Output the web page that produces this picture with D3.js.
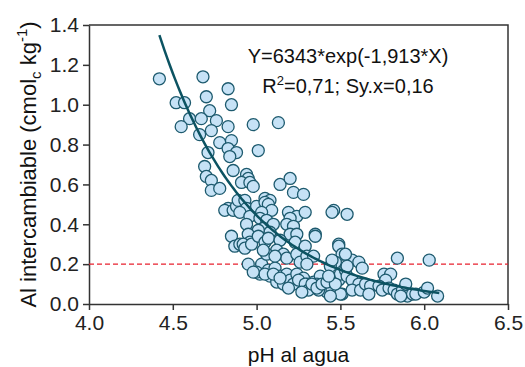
<!DOCTYPE html>
<html>
<head>
<meta charset="utf-8">
<script src="https://cdn.jsdelivr.net/npm/d3@7"></script>
<style>
  body { margin: 0; background: #fff; }
  svg { font-family: "Liberation Sans", Arial, sans-serif; }
</style>
</head>
<body>
<svg id="chart"></svg>
<script>
// pH al agua vs Al intercambiable
const pH = [
  4.42,4.68,4.83,4.70,4.52,4.57,4.85,4.72,4.60,4.67,4.76,4.55,4.83,4.98,5.13,4.73,4.66,4.78,4.85,4.83,
  4.88,5.01,4.71,4.84,4.69,4.70,4.73,4.86,4.94,4.95,4.91,4.96,4.98,4.73,4.78,5.14,5.20,5.22,5.28,5.05,
  5.08,4.83,4.81,4.86,4.88,4.89,4.93,4.94,4.90,4.96,4.94,5.00,5.05,5.07,5.09,5.03,5.02,5.06,5.10,5.04,
  5.08,5.01,5.19,5.24,5.29,5.20,5.18,5.22,5.20,5.46,5.45,5.54,4.85,4.87,4.90,4.95,4.96,4.92,4.93,4.97,
  5.01,5.05,5.07,5.14,5.24,5.23,5.35,5.35,5.49,5.49,5.51,5.12,5.16,5.18,5.24,5.26,5.29,5.30,5.34,5.30,
  4.95,5.03,5.02,5.07,5.11,5.08,5.14,5.12,5.18,5.16,5.20,5.24,5.28,5.30,5.34,5.38,5.36,5.40,5.42,5.37,
  5.45,5.46,5.49,5.50,5.47,5.44,5.53,5.54,5.51,5.06,5.11,5.04,5.00,5.05,5.10,5.14,5.22,5.25,5.29,5.31,
  5.33,5.36,5.39,5.42,5.50,5.47,5.43,4.98,5.19,5.27,5.44,5.84,6.03,5.57,5.61,5.63,5.53,5.54,5.45,5.76,
  5.80,5.77,5.57,5.61,5.57,5.62,5.65,5.68,5.67,5.73,5.75,5.79,5.82,5.84,5.87,5.89,5.90,5.93,5.95,6.00,
  6.02,6.08,5.86
];
const al = [
  1.13,1.14,1.08,1.04,1.01,1.01,1.00,0.97,0.93,0.93,0.92,0.89,0.89,0.90,0.91,0.87,0.85,0.81,0.82,0.78,
  0.76,0.77,0.76,0.74,0.69,0.64,0.62,0.67,0.65,0.63,0.61,0.61,0.59,0.57,0.58,0.60,0.63,0.56,0.55,0.53,
  0.52,0.48,0.47,0.47,0.49,0.52,0.52,0.48,0.46,0.44,0.40,0.49,0.51,0.50,0.47,0.46,0.43,0.42,0.40,0.38,
  0.36,0.37,0.46,0.44,0.46,0.43,0.40,0.39,0.35,0.47,0.46,0.45,0.34,0.29,0.30,0.35,0.31,0.30,0.28,0.30,
  0.34,0.31,0.33,0.32,0.35,0.31,0.35,0.34,0.30,0.29,0.25,0.27,0.25,0.23,0.25,0.21,0.29,0.24,0.24,0.20,
  0.20,0.20,0.15,0.17,0.18,0.14,0.14,0.11,0.15,0.10,0.12,0.15,0.13,0.10,0.11,0.14,0.10,0.09,0.06,0.07,
  0.07,0.11,0.12,0.15,0.21,0.19,0.17,0.14,0.05,0.25,0.24,0.27,0.16,0.15,0.15,0.13,0.10,0.12,0.10,0.07,
  0.10,0.08,0.10,0.11,0.05,0.10,0.14,0.16,0.08,0.06,0.04,0.23,0.22,0.22,0.21,0.18,0.25,0.19,0.22,0.15,
  0.15,0.12,0.12,0.10,0.07,0.07,0.10,0.09,0.05,0.09,0.07,0.08,0.07,0.05,0.07,0.10,0.04,0.05,0.05,0.06,
  0.08,0.04,0.04
];
const xTicks = [4.0, 4.5, 5.0, 5.5, 6.0, 6.5];
const yTicks = [0.0, 0.2, 0.4, 0.6, 0.8, 1.0, 1.2, 1.4];
// fitted model Y = a*exp(b*X)
const fitA = 6343, fitB = -1.913;
const fitRange = [4.42, 6.09];
const threshold = 0.2;
const eqLines = ["Y=6343*exp(-1,913*X)", "R²=0,71; Sy.x=0,16"];

const width = 525, height = 367;
const margin = {top: 25, right: 17, bottom: 63, left: 89};

const svg = d3.select("#chart").attr("width", width).attr("height", height);

const x = d3.scaleLinear([4.0, 6.5], [margin.left, width - margin.right]);
const y = d3.scaleLinear([0, 1.4], [height - margin.bottom, margin.top]);

// frame (top and right)
svg.append("path")
   .attr("d", `M${x(4.0)},${y(1.4)}H${x(6.5)}V${y(0)}`)
   .attr("fill", "none")
   .attr("stroke", "#333")
   .attr("stroke-width", 1.5);

// x axis
svg.append("g")
   .attr("transform", `translate(0,${y(0)})`)
   .call(d3.axisBottom(x).tickValues(xTicks).tickFormat(d3.format(".1f")).tickSize(6).tickPadding(5).tickSizeOuter(0))
   .call(g => g.selectAll("text").attr("font-size", 21).attr("fill", "#222").attr("font-family", null))
   .call(g => g.selectAll("line,path").attr("stroke", "#333").attr("stroke-width", 1.5));

// y axis
svg.append("g")
   .attr("transform", `translate(${x(4.0)},0)`)
   .call(d3.axisLeft(y).tickValues(yTicks).tickFormat(d3.format(".1f")).tickSize(6).tickPadding(4).tickSizeOuter(0))
   .call(g => g.selectAll("text").attr("font-size", 21).attr("fill", "#222").attr("font-family", null))
   .call(g => g.selectAll("line,path").attr("stroke", "#333").attr("stroke-width", 1.5));

// threshold line
svg.append("line")
   .attr("x1", x(4.0)).attr("x2", x(6.5))
   .attr("y1", y(threshold)).attr("y2", y(threshold))
   .attr("stroke", "#e8202e")
   .attr("stroke-width", 1.3)
   .attr("stroke-dasharray", "5,3");

// points
svg.append("g")
   .selectAll("circle")
   .data(d3.range(pH.length))
   .join("circle")
   .attr("cx", i => x(pH[i]))
   .attr("cy", i => y(al[i]))
   .attr("r", 6)
   .attr("fill", "#c6e2f6")
   .attr("stroke", "#1d5a6e")
   .attr("stroke-width", 1.3);

// fitted curve
const curveX = d3.range(fitRange[0], fitRange[1] + 0.001, 0.01);
svg.append("path")
   .datum(curveX)
   .attr("fill", "none")
   .attr("stroke", "#0c5362")
   .attr("stroke-width", 2.5)
   .attr("d", d3.line().x(d => x(d)).y(d => y(fitA * Math.exp(fitB * d))));

// equation
const eq = svg.append("g").attr("font-size", 20).attr("fill", "#111").attr("text-anchor", "middle");
eq.append("text").attr("x", 348).attr("y", 63).text(eqLines[0]);
const r2 = eq.append("text").attr("x", 348).attr("y", 93);
r2.append("tspan").text("R");
r2.append("tspan").attr("font-size", 13).attr("dy", -8).text("2");
r2.append("tspan").attr("dy", 8).text(eqLines[1].slice(2));

// axis titles
svg.append("text")
   .attr("x", (x(4.0) + x(6.5)) / 2)
   .attr("y", 362)
   .attr("text-anchor", "middle")
   .attr("font-size", 21)
   .attr("fill", "#111")
   .text("pH al agua");

const yl = svg.append("text")
   .attr("transform", `translate(36,${(y(0) + y(1.4)) / 2}) rotate(-90)`)
   .attr("text-anchor", "middle")
   .attr("font-size", 22)
   .attr("fill", "#111");
yl.append("tspan").text("Al intercambiable (cmol");
yl.append("tspan").attr("font-size", 15).attr("dy", 5).text("c");
yl.append("tspan").attr("dy", -5).text(" kg");
yl.append("tspan").attr("font-size", 15).attr("dy", -9).text("-1");
yl.append("tspan").attr("dy", 9).text(")");
</script>
</body>
</html>
